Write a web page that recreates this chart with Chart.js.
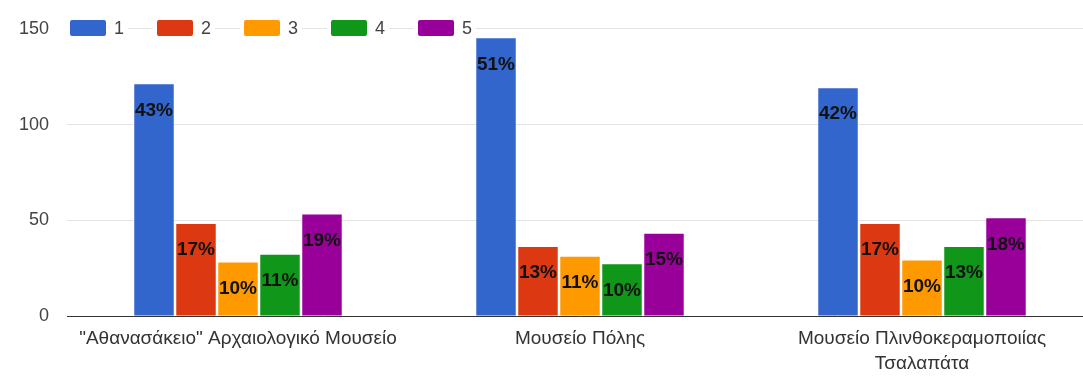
<!DOCTYPE html>
<html>
<head>
<meta charset="utf-8">
<script src="https://cdn.jsdelivr.net/npm/chart.js@4.4.1/dist/chart.umd.min.js"></script>
<style>
    body { margin: 0; background: #fff; overflow: hidden; font-family: Arial, "Liberation Sans", sans-serif; }
    #wrap { position: relative; width: 1095px; height: 376px; }
    #legend { position: absolute; top: 18px; left: 66px; display: flex; }
    #legend .item { display: flex; align-items: center; background: #fff; padding: 0 4px; margin-right: 25px; height: 20px; }
    #legend .box { width: 36px; height: 16px; border-radius: 2px; margin-right: 8px; }
    #legend .txt { font-size: 18px; color: #444; }
</style>
</head>
<body>
<div id="wrap">
    <canvas id="chart"></canvas>
    <div id="legend"></div>
</div>
<script>
// Μουσεία
const categories = ['"Αθανασάκειο" Αρχαιολογικό Μουσείο', 'Μουσείο Πόλης', ['Μουσείο Πλινθοκεραμοποιίας', 'Τσαλαπάτα']];
const seriesNames = ['1', '2', '3', '4', '5'];
const rating1 = [121, 145, 119];
const rating2 = [48, 36, 48];
const rating3 = [28, 31, 29];
const rating4 = [32, 27, 36];
const rating5 = [53, 43, 51];
const yTicks = [0, 50, 100, 150];

const colors = ['#3366cc', '#dc3912', '#ff9900', '#109618', '#990099'];
const allSeries = [rating1, rating2, rating3, rating4, rating5];

// σύνολο ανά μουσείο για τα ποσοστά
const totals = categories.map((c, i) => allSeries.reduce((s, arr) => s + arr[i], 0));

// ετικέτες ποσοστών μέσα στις μπάρες
const pctLabels = {
    id: 'pctLabels',
    afterDatasetsDraw(chart) {
        const ctx = chart.ctx;
        ctx.save();
        ctx.font = 'bold 19px Arial, "Liberation Sans"';
        ctx.fillStyle = '#111';
        ctx.textAlign = 'center';
        ctx.textBaseline = 'middle';
        chart.data.datasets.forEach((ds, d) => {
            chart.getDatasetMeta(d).data.forEach((bar, i) => {
                const pct = Math.round(ds.data[i] / totals[i] * 100) + '%';
                const y = Math.min(bar.y + 26, bar.base - 13);
                ctx.fillText(pct, bar.x, y);
            });
        });
        ctx.restore();
    }
};

const ctx = document.getElementById('chart').getContext('2d');
const chart = new Chart(ctx, {
    type: 'bar',
    data: {
        labels: categories,
        datasets: allSeries.map((arr, i) => ({
            label: seriesNames[i],
            data: arr,
            backgroundColor: colors[i],
            borderWidth: 0,
            categoryPercentage: 0.614,
            barPercentage: 0.94
        }))
    },
    options: {
        responsive: true,
        maintainAspectRatio: false,
        animation: false,
        layout: { padding: { top: 28, right: 2, left: 0, bottom: 0 } },
        plugins: { legend: { display: false }, tooltip: { enabled: false } },
        scales: {
            x: {
                grid: { display: false, drawTicks: false },
                border: { display: true, color: '#333', width: 1 },
                ticks: {
                    color: '#333',
                    padding: 10,
                    maxRotation: 0,
                    autoSkip: false,
                    font: { size: 19, family: 'Arial, "Liberation Sans"', lineHeight: 1.32 }
                },
                afterFit(scale) { scale.height = 60; }
            },
            y: {
                min: 0,
                max: 150,
                afterBuildTicks(scale) { scale.ticks = yTicks.map(v => ({ value: v })); },
                grid: { color: '#e3e3e3', drawTicks: false },
                border: { display: false },
                ticks: {
                    color: '#444',
                    padding: 18,
                    font: { size: 18, family: 'Arial, "Liberation Sans"' }
                },
                afterFit(scale) { scale.width = 67; }
            }
        }
    },
    plugins: [pctLabels]
});

// Legend σε HTML
const legendEl = document.getElementById('legend');
chart.data.datasets.forEach(ds => {
    const item = document.createElement('div');
    item.className = 'item';
    item.innerHTML = `<span class="box" style="background:${ds.backgroundColor}"></span><span class="txt">${ds.label}</span>`;
    legendEl.appendChild(item);
});
</script>
</body>
</html>
